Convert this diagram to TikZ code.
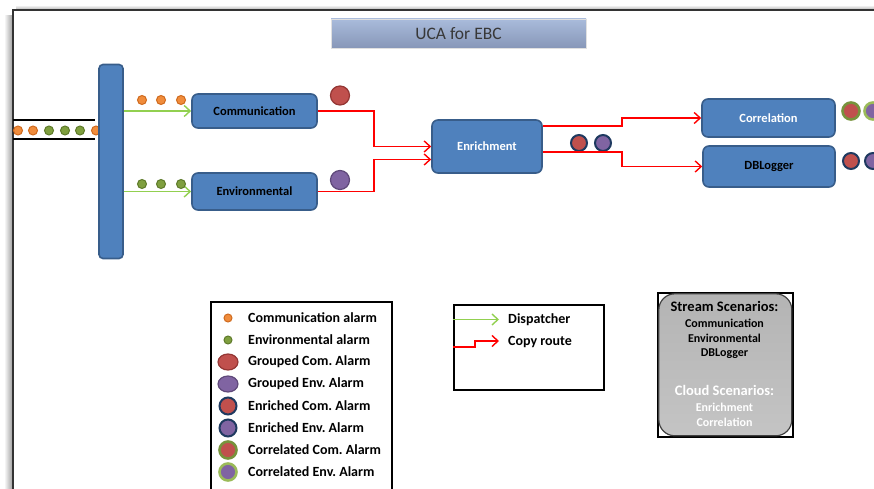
\documentclass[tikz,border=0pt]{standalone}
\usepackage{fontspec}
\setmainfont{Carlito}
\frenchspacing
\usetikzlibrary{arrows.meta,shapes.geometric}
\definecolor{boxfill}{HTML}{4F81BD}
\definecolor{boxline}{HTML}{385D8A}
\definecolor{orgf}{HTML}{F08C3C}
\definecolor{orgd}{HTML}{CF6A1E}
\definecolor{grnf}{HTML}{7F9F3F}
\definecolor{grnd}{HTML}{5E7A2A}
\definecolor{redf}{HTML}{C0504D}
\definecolor{redd}{HTML}{943634}
\definecolor{purf}{HTML}{8064A2}
\definecolor{purd}{HTML}{5F497A}
\definecolor{navy}{HTML}{1F3A60}
\definecolor{corg}{HTML}{77933C}
\definecolor{corlg}{HTML}{9BBB59}
\definecolor{disp}{HTML}{92D050}
\definecolor{titletop}{HTML}{A9BBDB}
\definecolor{titlebot}{HTML}{8797B8}
\definecolor{scentop}{HTML}{B4B4B4}
\definecolor{scenmid}{HTML}{D6D6D6}
\definecolor{scenbot}{HTML}{C4C4C4}
\tikzset{
  proc/.style={draw=boxline, line width=1.6pt, fill=boxfill, rounded corners=6pt,
    inner sep=0pt, font=\bfseries\fontsize{12.5}{14}\selectfont},
  smalldot/.style={circle, line width=1pt, minimum size=9pt, inner sep=0pt},
  odot/.style={smalldot, draw=orgd, fill=orgf},
  gdot/.style={smalldot, draw=grnd, fill=grnf},
  bigdot/.style={circle, line width=1.2pt, minimum size=19pt, inner sep=0pt},
  grpcom/.style={bigdot, draw=redd, fill=redf},
  grpenv/.style={bigdot, draw=purd, fill=purf},
  enrdot/.style={circle, line width=2pt, minimum size=16pt, inner sep=0pt, draw=navy},
  enrcom/.style={enrdot, fill=redf},
  enrenv/.style={enrdot, fill=purf},
  cordot/.style={circle, line width=2.6pt, minimum size=17pt, inner sep=0pt},
  corcom/.style={cordot, draw=corg, fill=redf},
  corenv/.style={cordot, draw=corlg, fill=purf},
  disparrow/.style={draw=disp, line width=1.5pt, -{Straight Barb[length=6pt,width=11pt,line width=1.4pt]}},
  copyarrow/.style={draw=red, line width=1.5pt, -{Straight Barb[length=6pt,width=11pt,line width=1.4pt]}},
  legtext/.style={anchor=west, inner sep=0pt, font=\bfseries\fontsize{14}{16}\selectfont},
  scenhead/.style={inner sep=0pt, font=\bfseries\fontsize{14.5}{16}\selectfont},
  scenitem/.style={inner sep=0pt, font=\bfseries\fontsize{12}{14}\selectfont},
}
\begin{document}
\begin{tikzpicture}[x=1pt,y=-1pt]
\useasboundingbox (0,0) rectangle (874,489);
\clip (0,0) rectangle (874,489);
% frame shadow
\fill[left color=white, right color=black!35] (4,16) rectangle (12,489);
\fill[top color=white, bottom color=black!25] (16,5) rectangle (874,9);
\draw[black!80, line width=1.5pt] (13,489) -- (13,10) -- (874,10);
% title
\node[draw=black!12, line width=0.6pt, top color=titletop, bottom color=titlebot,
  minimum width=255pt, minimum height=29pt, inner sep=0pt,
  font=\fontsize{17.5}{19}\selectfont, text=black!78] (title) at (458.5,33.5) {UCA for EBC};
% input pipe
\draw[line width=1.5pt] (13,120) coordinate (pipeA) -- (95,120) coordinate (pipeB);
\draw[line width=1.5pt] (13,139) coordinate (pipeC) -- (95,139) coordinate (pipeD);
\node[odot] (i1) at (18,130.5) {};
\node[odot] (i2) at (33,130.5) {};
\node[gdot] (i3) at (49,130.5) {};
\node[gdot] (i4) at (65,130.5) {};
\node[gdot] (i5) at (80,130.5) {};
\node[odot] (i6) at (96,130.5) {};
% dispatcher bar
\node[draw=boxline, line width=1.6pt, fill=boxfill, rounded corners=4pt,
  minimum width=24pt, minimum height=194pt, inner sep=0pt] (bar) at (111,161.5) {};
% process boxes
\node[proc, minimum width=125pt, minimum height=34pt] (comm) at (254.5,111) {Communication};
\node[proc, minimum width=125pt, minimum height=37pt] (env) at (254.5,191.5) {Environmental};
\node[proc, minimum width=110pt, minimum height=53pt, text=white] (enr) at (487,146.5) {Enrichment};
\node[proc, minimum width=133pt, minimum height=38pt, text=white] (corr) at (768.5,118) {Correlation};
\node[proc, minimum width=132pt, minimum height=41pt] (dbl) at (769,166.5) {DBLogger};
% dispatcher arrows
\draw[disparrow] (bar.east |- comm.west) -- (comm.west);
\draw[disparrow] (bar.east |- env.west) -- (env.west);
\node[odot] (c1) at (142,100) {};
\node[odot] (c2) at (161,100) {};
\node[odot] (c3) at (181,100) {};
\node[gdot] (e1) at (142,184) {};
\node[gdot] (e2) at (161,184) {};
\node[gdot] (e3) at (181,184) {};
% grouped alarms
\node[grpcom] (g1) at (340,95.5) {};
\node[grpenv] (g2) at (340,180) {};
% copy routes into enrichment
\draw[copyarrow] (comm.east) -- ++(56,0) |- (enr.west);
\draw[copyarrow] (env.east) -- ++(56,0) |- ([yshift=-13pt]enr.west);
% enriched alarms
\node[enrcom] (n1) at (579,143) {};
\node[enrenv] (n2) at (603,143) {};
% copy routes out of enrichment
\draw[copyarrow] ([yshift=20.5pt]enr.east) -- ++(79,0) |- (corr.west);
\draw[copyarrow] ([yshift=-5.5pt]enr.east) -- ++(79,0) |- (dbl.west);
% outputs
\node[corcom] (o1) at (851,111) {};
\node[corenv] (o2) at (873,111) {};
\node[enrcom] (o3) at (851,161) {};
\node[enrenv] (o4) at (873,161) {};
% legend 1
\node[draw, line width=1.6pt, minimum width=181pt, minimum height=200pt, anchor=north west,
  inner sep=0pt] (leg1) at (210,301) {};
\node[odot, minimum size=8pt] (s1) at (228,318) {};
\node[gdot, minimum size=8pt] (s2) at (228,340) {};
\node[grpcom, ellipse, minimum width=20pt, minimum height=16pt] (s3) at (228,362) {};
\node[grpenv, ellipse, minimum width=20pt, minimum height=16pt] (s4) at (228,384) {};
\node[enrcom, minimum size=17pt] (s5) at (228,406) {};
\node[enrenv, minimum size=17pt] (s6) at (228,428) {};
\node[corcom] (s7) at (228,450) {};
\node[corenv] (s8) at (228,472) {};
\node[legtext] (t1) at (248,318) {Communication alarm};
\node[legtext] (t2) at (248,340) {Environmental alarm};
\node[legtext] (t3) at (248,362) {Grouped Com. Alarm};
\node[legtext] (t4) at (248,384) {Grouped Env. Alarm};
\node[legtext] (t5) at (248,406) {Enriched Com. Alarm};
\node[legtext] (t6) at (248,428) {Enriched Env. Alarm};
\node[legtext] (t7) at (248,450) {Correlated Com. Alarm};
\node[legtext] (t8) at (248,472) {Correlated Env. Alarm};
% legend 2
\node[draw, line width=1.6pt, minimum width=150pt, minimum height=85pt, anchor=north west,
  inner sep=0pt] (leg2) at (453,304) {};
\node[legtext] (d1) at (508,319.5) {Dispatcher};
\node[legtext] (d2) at (508,342) {Copy route};
\coordinate (da) at (453,319.5);
\coordinate (ca) at (453,347);
\draw[disparrow] (da) -- ([xshift=-9pt]d1.west);
\draw[copyarrow] (ca) -- (475,347) |- ([xshift=-9pt,yshift=1pt]d2.west);
% scenarios
\node[draw=black, line width=1.6pt, fill=white, minimum width=135pt, minimum height=144pt,
  inner sep=0pt, anchor=north west] (scenframe) at (657,292) {};
\node[draw=black!75, line width=1.2pt, rounded corners=16pt, top color=scentop,
  middle color=scenmid, bottom color=scenbot,
  minimum width=133pt, minimum height=142pt, inner sep=0pt] (scen) at (scenframe.center) {};
\node[scenhead] (sh1) at (724.5,306) {Stream Scenarios:};
\node[scenitem] (si1) at (724.5,323) {Communication};
\node[scenitem] (si2) at (724.5,338.5) {Environmental};
\node[scenitem] (si3) at (724.5,354) {DBLogger};
\node[scenhead, text=white] (sh2) at (724.5,390) {Cloud Scenarios:};
\node[scenitem, text=white] (si4) at (724.5,407) {Enrichment};
\node[scenitem, text=white] (si5) at (724.5,422.5) {Correlation};
\end{tikzpicture}
\end{document}
